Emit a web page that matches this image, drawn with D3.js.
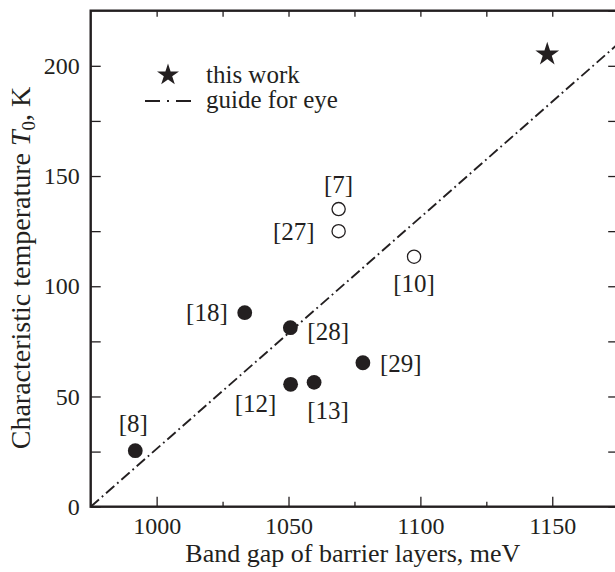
<!DOCTYPE html>
<meta charset="utf-8">
<style>
  body { margin: 0; background: #fff; }
  text { font-family: "Liberation Serif", "Times New Roman", serif; fill: #231f20; }
</style>
<body>
<script src="https://d3js.org/d3.v7.min.js"></script>
<script>

var width = 615,
    height = 572;

// data
var openRefs = ["[7]", "[27]", "[10]"];
var openX = [1069, 1069, 1097.6];
var openY = [135, 125, 113.4];

var filledRefs = ["[18]", "[28]", "[29]", "[12]", "[13]", "[8]"];
var filledX = [1033.4, 1050.7, 1078.2, 1050.8, 1059.7, 991.9];
var filledY = [88, 81.2, 65.3, 55.5, 56.4, 25.4];

var starX = [1148.1];
var starY = [205.2];

var guideX = [975, 1175];
var guideY = [0, 210];

var xMajor = [1000, 1050, 1100, 1150];
var xMinor = [1025, 1075, 1125, 1175];
var yMajor = [0, 50, 100, 150, 200];
var yMinor = [25, 75, 125, 175, 225];

// label placement (px offsets from the point)
var openLab = [[0, -25, "middle"], [-24, 0, "end"], [0, 27, "middle"]];
var filledLab = [[-17, 0, "end"], [17, 4, "start"], [17, 1, "start"],
                 [-35, 19, "middle"], [14, 28, "middle"], [-2, -27, "middle"]];

var ink = "#231f20";

var x = d3.scaleLinear().domain([975, 1175]).range([90.7, 618.2]);
var y = d3.scaleLinear().domain([0, 225]).range([506.7, 10.7]);

var svg = d3.select("body").append("svg")
    .attr("width", width)
    .attr("height", height);

// axes, ticks pointing inward
function style(g) {
  g.select(".domain").remove();
  g.selectAll("line").attr("stroke", ink).attr("stroke-width", 1.3);
  g.selectAll("text").attr("font-size", 24).attr("fill", ink)
    .style("font-family", "Liberation Serif, serif");
}

svg.append("g").attr("transform", "translate(0," + y(0) + ")")
    .call(d3.axisBottom(x).tickValues(xMajor).tickSize(-10).tickPadding(10).tickFormat(d3.format("d")))
    .call(style);
svg.append("g").attr("transform", "translate(0," + y(0) + ")")
    .call(d3.axisBottom(x).tickValues(xMinor).tickSize(-5).tickFormat(""))
    .call(style);
svg.append("g").attr("transform", "translate(0," + y(225) + ")")
    .call(d3.axisTop(x).tickValues(xMajor.concat(xMinor)).tickSize(-6).tickFormat(""))
    .call(style);
svg.append("g").attr("transform", "translate(" + x(975) + ",0)")
    .call(d3.axisLeft(y).tickValues(yMajor).tickSize(-10).tickPadding(11).tickFormat(d3.format("d")))
    .call(style);
svg.append("g").attr("transform", "translate(" + x(975) + ",0)")
    .call(d3.axisLeft(y).tickValues(yMinor.slice(0, 4)).tickSize(-10).tickFormat(""))
    .call(style);
svg.append("g").attr("transform", "translate(" + x(1175) + ",0)")
    .call(d3.axisRight(y).tickValues(yMajor.concat(yMinor)).tickSize(-10).tickFormat(""))
    .call(style);

// frame
svg.append("rect")
    .attr("x", x(975)).attr("y", y(225))
    .attr("width", x(1175) - x(975)).attr("height", y(0) - y(225))
    .attr("fill", "none").attr("stroke", ink).attr("stroke-width", 2.4);

// guide for eye
svg.append("line")
    .attr("x1", x(guideX[0])).attr("y1", y(guideY[0]))
    .attr("x2", x(guideX[1])).attr("y2", y(guideY[1]))
    .attr("stroke", ink).attr("stroke-width", 1.9)
    .attr("stroke-dasharray", "11,3.8,1.8,3.8");

// points
svg.selectAll(".open").data(openX).enter().append("circle")
    .attr("cx", function(d) { return x(d); })
    .attr("cy", function(d, i) { return y(openY[i]); })
    .attr("r", 6.6)
    .attr("fill", "#fff").attr("stroke", ink).attr("stroke-width", 1.3);

svg.selectAll(".filled").data(filledX).enter().append("circle")
    .attr("cx", function(d) { return x(d); })
    .attr("cy", function(d, i) { return y(filledY[i]); })
    .attr("r", 7.4)
    .attr("fill", ink);

var star = d3.symbol().type(d3.symbolStar);
svg.selectAll(".star").data(starX).enter().append("path")
    .attr("d", star.size(175)())
    .attr("transform", function(d, i) { return "translate(" + x(d) + "," + y(starY[i]) + ")"; })
    .attr("fill", ink);

// reference labels
function labels(refs, xs, ys, lab) {
  svg.selectAll(null).data(refs).enter().append("text")
      .attr("x", function(d, i) { return x(xs[i]) + lab[i][0]; })
      .attr("y", function(d, i) { return y(ys[i]) + lab[i][1]; })
      .attr("text-anchor", function(d, i) { return lab[i][2]; })
      .attr("dominant-baseline", "central")
      .attr("font-size", 25)
      .text(function(d) { return d; });
}
labels(openRefs, openX, openY, openLab);
labels(filledRefs, filledX, filledY, filledLab);

// legend
svg.append("path")
    .attr("d", star.size(150)())
    .attr("transform", "translate(168,75)")
    .attr("fill", ink);
svg.append("text").attr("x", 206).attr("y", 83).attr("font-size", 25).text("this work");
svg.append("line")
    .attr("x1", 145).attr("x2", 192).attr("y1", 101).attr("y2", 101)
    .attr("stroke", ink).attr("stroke-width", 1.8)
    .attr("stroke-dasharray", "15,7,2,7");
svg.append("text").attr("x", 206).attr("y", 108).attr("font-size", 25).text("guide for eye");

// axis titles
svg.append("text")
    .attr("x", (x(975) + 615) / 2).attr("y", 562)
    .attr("text-anchor", "middle").attr("font-size", 26)
    .text("Band gap of barrier layers, meV");

var yt = svg.append("text")
    .attr("transform", "translate(30," + 268 + ") rotate(-90)")
    .attr("text-anchor", "middle").attr("font-size", 28);
yt.append("tspan").text("Characteristic temperature ");
yt.append("tspan").attr("font-style", "italic").text("T");
yt.append("tspan").attr("font-size", 19).attr("dy", 5).text("0");
yt.append("tspan").attr("dy", -5).text(", K");

</script>
